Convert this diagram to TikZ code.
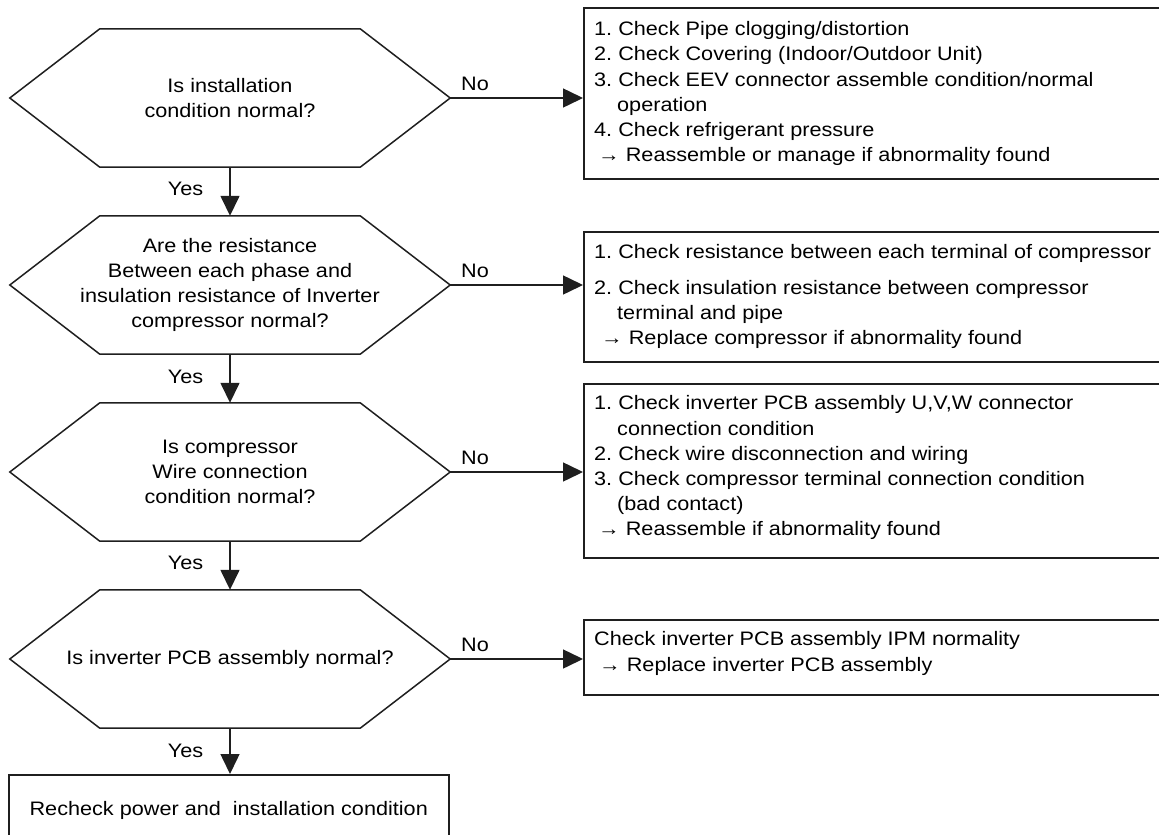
\documentclass[tikz,border=0pt]{standalone}
\usepackage{fontspec}
\setmainfont[FakeStretch=1.11]{Liberation Sans}
\usetikzlibrary{arrows.meta,calc}
\frenchspacing
\begin{document}
\begin{tikzpicture}[x=1pt,y=-1pt,
  line/.style={line width=1.5pt, draw=black!88},
  arr/.style={line, -{Triangle[length=20pt,width=19pt]}},
  qbox/.style={minimum width=440pt, minimum height=138pt, inner sep=0pt, align=center, font=\fontsize{19.5}{25.2}\selectfont},
  abox/.style={line, anchor=north west, minimum width=600pt, inner sep=0pt},
  txt/.style={anchor=north west, inner sep=0pt, align=left, font=\fontsize{19.5}{25.2}\selectfont},
  lbl/.style={font=\fontsize{19.5}{22}\selectfont, inner sep=0pt}
]
\useasboundingbox (0,0) rectangle (1159,835);

% decision hexagons
\node[qbox] (q1) at (230,98) {Is installation\\condition normal?};
\node[qbox] (q2) at (230,285) {Are the resistance\\Between each phase and\\insulation resistance of Inverter\\compressor normal?};
\node[qbox] (q3) at (230,472) {Is compressor\\Wire connection\\condition normal?};
\node[qbox] (q4) at (230,659) {Is inverter PCB assembly normal?};
\foreach \q in {q1,q2,q3,q4}
  \draw[line] (\q.west) -- ($(\q.north west)+(90,0)$) -- ($(\q.north east)+(-90,0)$)
    -- (\q.east) -- ($(\q.south east)+(-90,0)$) -- ($(\q.south west)+(90,0)$) -- cycle;

% final box
\node[line, draw, anchor=north west, minimum width=440pt, minimum height=72pt, inner sep=0pt,
  font=\fontsize{19.5}{25.2}\selectfont] (r) at (8,774) {Recheck power and\ \ installation condition};

% action boxes
\node[abox, draw, minimum height=171pt] (a1) at (583,7) {};
\node[abox, draw, minimum height=130pt] (a2) at (583,231) {};
\node[abox, draw, minimum height=174pt] (a3) at (583,383) {};
\node[abox, draw, minimum height=75pt] (a4) at (583,619) {};

\node[txt] (t1) at (594,19.5) {\rule{0pt}{16pt}1. Check Pipe clogging/distortion\\
2. Check Covering (Indoor/Outdoor Unit)\\
3. Check EEV connector assemble condition/normal\\
\hspace*{23pt}operation\\
4. Check refrigerant pressure\\
\hspace*{4pt}→ Reassemble or manage if abnormality found};

\node[txt] (t2) at (594,242.7) {\rule{0pt}{16pt}1. Check resistance between each terminal of compressor\\[10pt]
2. Check insulation resistance between compressor\\
\hspace*{23pt}terminal and pipe\\
\hspace*{7pt}→ Replace compressor if abnormality found};

\node[txt] (t3) at (594,393.7) {\rule{0pt}{16pt}1. Check inverter PCB assembly U,V,W connector\\
\hspace*{23pt}connection condition\\
2. Check wire disconnection and wiring\\
3. Check compressor terminal connection condition\\
\hspace*{23pt}(bad contact)\\
\hspace*{4pt}→ Reassemble if abnormality found};

\node[txt] (t4) at (594,629.7) {\rule{0pt}{16pt}Check inverter PCB assembly IPM normality\\
\hspace*{5pt}→ Replace inverter PCB assembly};

% connectors
\draw[arr] (q1.south) -- (q2.north);
\draw[arr] (q2.south) -- (q3.north);
\draw[arr] (q3.south) -- (q4.north);
\draw[arr] (q4.south) -- (q4.south |- r.north);
\draw[arr] (q1.east) -- (q1.east -| a1.west);
\draw[arr] (q2.east) -- (q2.east -| a2.west);
\draw[arr] (q3.east) -- (q3.east -| a3.west);
\draw[arr] (q4.east) -- (q4.east -| a4.west);

% labels
\node[lbl] (y1) at (185.5,189) {Yes};
\node[lbl] (y2) at (185.5,377) {Yes};
\node[lbl] (y3) at (185.5,563) {Yes};
\node[lbl] (y4) at (185.5,751) {Yes};
\node[lbl] (n1) at (475,84) {No};
\node[lbl] (n2) at (475,271) {No};
\node[lbl] (n3) at (475,458) {No};
\node[lbl] (n4) at (475,645) {No};
\end{tikzpicture}
\end{document}
